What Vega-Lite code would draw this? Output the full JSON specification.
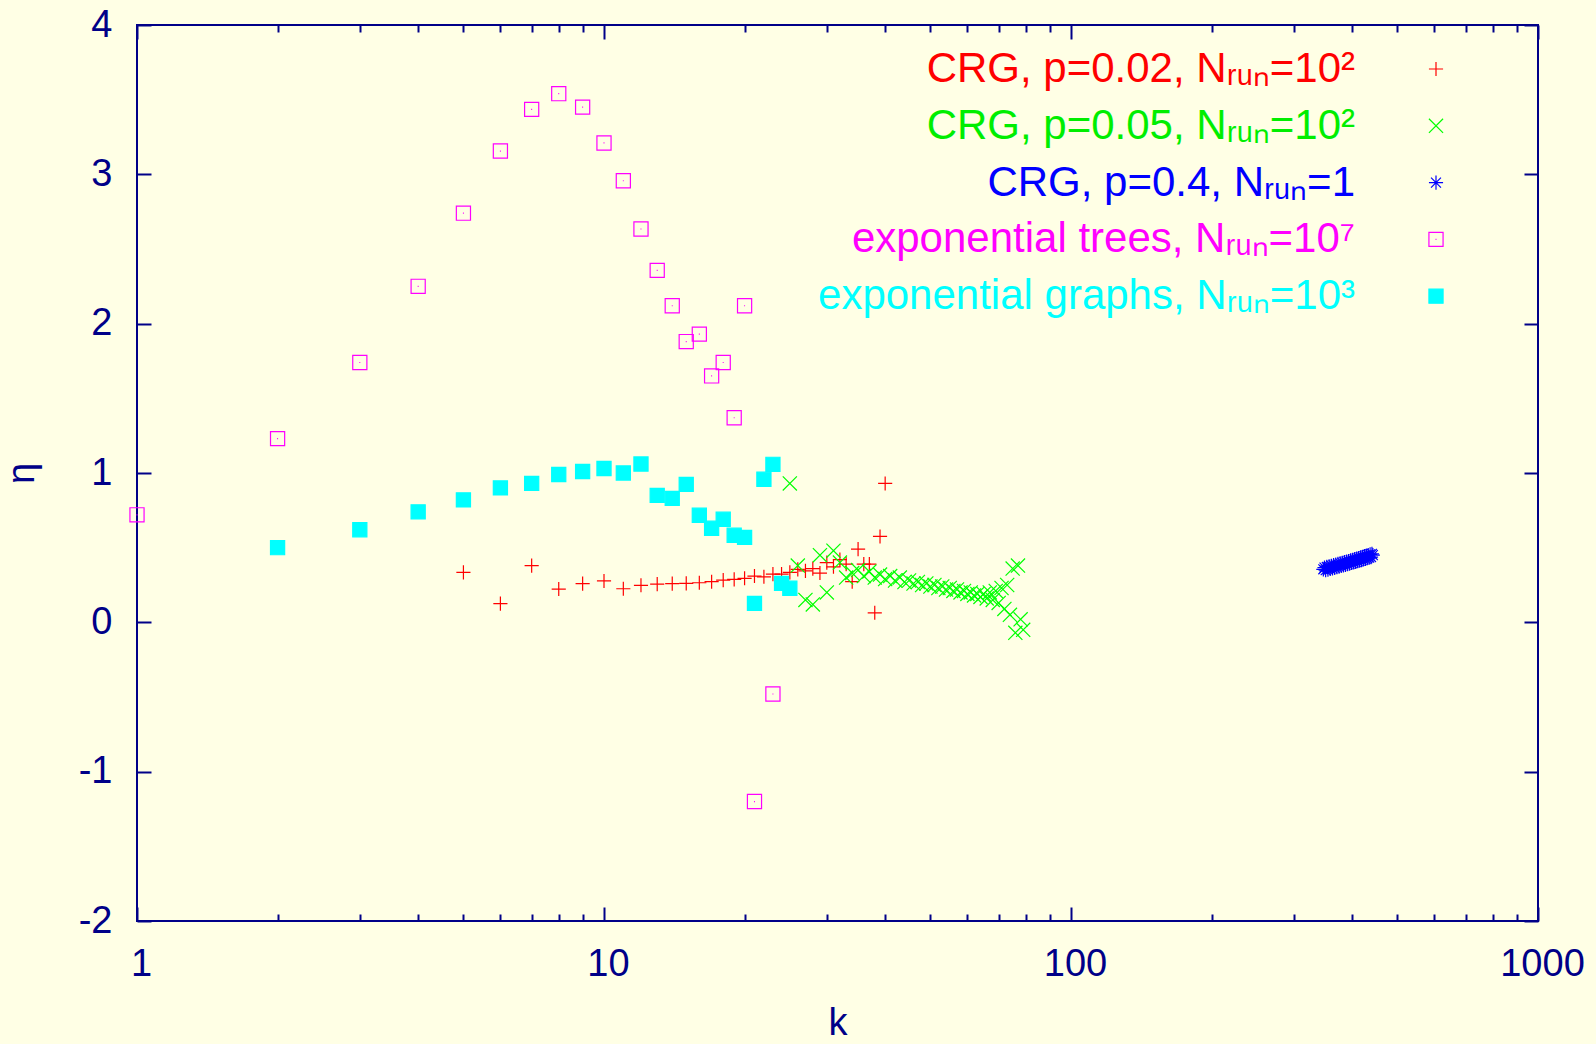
{
  "$schema": "https://vega.github.io/schema/vega-lite/v6.json",
  "width": 1401,
  "height": 896,
  "autosize": {"type": "none"},
  "padding": {"left": 137, "top": 25, "right": 58, "bottom": 123},
  "background": "#ffffe5",
  "config": {
    "view": {"stroke": "#000088", "strokeWidth": 2},
    "axis": {
      "domain": false, "grid": false, "labelFlush": false,
      "tickColor": "#000088", "tickWidth": 2,
      "labelFont": "Liberation Sans", "labelFontSize": 38, "labelColor": "#000088",
      "titleFont": "Liberation Sans", "titleFontSize": 38, "titleColor": "#000088", "titleFontWeight": "normal"
    },
    "legend": {
      "orient": "none", "legendX": 1278, "legendY": 23, "direction": "vertical",
      "labelAlign": "right", "labelOffset": -102, "labelFont": "Liberation Sans", "labelFontSize": 42,
      "labelLimit": 900, "rowPadding": 14.8, "symbolSize": 200, "symbolStrokeWidth": 1.2, "padding": 0
    }
  },
  "data": {"values": [
    {"k": 5, "eta": 0.335, "s": "CRG, p=0.02, Nᵣᵤₙ=10²"},
    {"k": 6, "eta": 0.125, "s": "CRG, p=0.02, Nᵣᵤₙ=10²"},
    {"k": 7, "eta": 0.38, "s": "CRG, p=0.02, Nᵣᵤₙ=10²"},
    {"k": 8, "eta": 0.223, "s": "CRG, p=0.02, Nᵣᵤₙ=10²"},
    {"k": 9, "eta": 0.259, "s": "CRG, p=0.02, Nᵣᵤₙ=10²"},
    {"k": 10, "eta": 0.277, "s": "CRG, p=0.02, Nᵣᵤₙ=10²"},
    {"k": 11, "eta": 0.225, "s": "CRG, p=0.02, Nᵣᵤₙ=10²"},
    {"k": 12, "eta": 0.248, "s": "CRG, p=0.02, Nᵣᵤₙ=10²"},
    {"k": 13, "eta": 0.256, "s": "CRG, p=0.02, Nᵣᵤₙ=10²"},
    {"k": 14, "eta": 0.259, "s": "CRG, p=0.02, Nᵣᵤₙ=10²"},
    {"k": 15, "eta": 0.261, "s": "CRG, p=0.02, Nᵣᵤₙ=10²"},
    {"k": 16, "eta": 0.265, "s": "CRG, p=0.02, Nᵣᵤₙ=10²"},
    {"k": 17, "eta": 0.272, "s": "CRG, p=0.02, Nᵣᵤₙ=10²"},
    {"k": 18, "eta": 0.283, "s": "CRG, p=0.02, Nᵣᵤₙ=10²"},
    {"k": 19, "eta": 0.288, "s": "CRG, p=0.02, Nᵣᵤₙ=10²"},
    {"k": 20, "eta": 0.295, "s": "CRG, p=0.02, Nᵣᵤₙ=10²"},
    {"k": 21, "eta": 0.31, "s": "CRG, p=0.02, Nᵣᵤₙ=10²"},
    {"k": 22, "eta": 0.305, "s": "CRG, p=0.02, Nᵣᵤₙ=10²"},
    {"k": 23, "eta": 0.323, "s": "CRG, p=0.02, Nᵣᵤₙ=10²"},
    {"k": 24, "eta": 0.323, "s": "CRG, p=0.02, Nᵣᵤₙ=10²"},
    {"k": 25, "eta": 0.335, "s": "CRG, p=0.02, Nᵣᵤₙ=10²"},
    {"k": 26, "eta": 0.355, "s": "CRG, p=0.02, Nᵣᵤₙ=10²"},
    {"k": 27, "eta": 0.345, "s": "CRG, p=0.02, Nᵣᵤₙ=10²"},
    {"k": 28, "eta": 0.36, "s": "CRG, p=0.02, Nᵣᵤₙ=10²"},
    {"k": 29, "eta": 0.33, "s": "CRG, p=0.02, Nᵣᵤₙ=10²"},
    {"k": 30, "eta": 0.40, "s": "CRG, p=0.02, Nᵣᵤₙ=10²"},
    {"k": 31, "eta": 0.372, "s": "CRG, p=0.02, Nᵣᵤₙ=10²"},
    {"k": 32, "eta": 0.42, "s": "CRG, p=0.02, Nᵣᵤₙ=10²"},
    {"k": 33, "eta": 0.39, "s": "CRG, p=0.02, Nᵣᵤₙ=10²"},
    {"k": 34, "eta": 0.272, "s": "CRG, p=0.02, Nᵣᵤₙ=10²"},
    {"k": 35, "eta": 0.49, "s": "CRG, p=0.02, Nᵣᵤₙ=10²"},
    {"k": 36, "eta": 0.39, "s": "CRG, p=0.02, Nᵣᵤₙ=10²"},
    {"k": 37, "eta": 0.39, "s": "CRG, p=0.02, Nᵣᵤₙ=10²"},
    {"k": 38, "eta": 0.064, "s": "CRG, p=0.02, Nᵣᵤₙ=10²"},
    {"k": 39, "eta": 0.575, "s": "CRG, p=0.02, Nᵣᵤₙ=10²"},
    {"k": 40, "eta": 0.93, "s": "CRG, p=0.02, Nᵣᵤₙ=10²"},
    {"k": 25, "eta": 0.93, "s": "CRG, p=0.05, Nᵣᵤₙ=10²"},
    {"k": 26, "eta": 0.38, "s": "CRG, p=0.05, Nᵣᵤₙ=10²"},
    {"k": 27, "eta": 0.15, "s": "CRG, p=0.05, Nᵣᵤₙ=10²"},
    {"k": 28, "eta": 0.12, "s": "CRG, p=0.05, Nᵣᵤₙ=10²"},
    {"k": 29, "eta": 0.45, "s": "CRG, p=0.05, Nᵣᵤₙ=10²"},
    {"k": 30, "eta": 0.20, "s": "CRG, p=0.05, Nᵣᵤₙ=10²"},
    {"k": 31, "eta": 0.48, "s": "CRG, p=0.05, Nᵣᵤₙ=10²"},
    {"k": 32, "eta": 0.40, "s": "CRG, p=0.05, Nᵣᵤₙ=10²"},
    {"k": 33, "eta": 0.30, "s": "CRG, p=0.05, Nᵣᵤₙ=10²"},
    {"k": 34, "eta": 0.33, "s": "CRG, p=0.05, Nᵣᵤₙ=10²"},
    {"k": 35, "eta": 0.35, "s": "CRG, p=0.05, Nᵣᵤₙ=10²"},
    {"k": 36, "eta": 0.31, "s": "CRG, p=0.05, Nᵣᵤₙ=10²"},
    {"k": 37, "eta": 0.34, "s": "CRG, p=0.05, Nᵣᵤₙ=10²"},
    {"k": 38, "eta": 0.30, "s": "CRG, p=0.05, Nᵣᵤₙ=10²"},
    {"k": 39, "eta": 0.32, "s": "CRG, p=0.05, Nᵣᵤₙ=10²"},
    {"k": 40, "eta": 0.29, "s": "CRG, p=0.05, Nᵣᵤₙ=10²"},
    {"k": 41, "eta": 0.31, "s": "CRG, p=0.05, Nᵣᵤₙ=10²"},
    {"k": 42, "eta": 0.28, "s": "CRG, p=0.05, Nᵣᵤₙ=10²"},
    {"k": 43, "eta": 0.30, "s": "CRG, p=0.05, Nᵣᵤₙ=10²"},
    {"k": 44, "eta": 0.27, "s": "CRG, p=0.05, Nᵣᵤₙ=10²"},
    {"k": 45, "eta": 0.28, "s": "CRG, p=0.05, Nᵣᵤₙ=10²"},
    {"k": 46, "eta": 0.26, "s": "CRG, p=0.05, Nᵣᵤₙ=10²"},
    {"k": 47, "eta": 0.27, "s": "CRG, p=0.05, Nᵣᵤₙ=10²"},
    {"k": 48, "eta": 0.25, "s": "CRG, p=0.05, Nᵣᵤₙ=10²"},
    {"k": 49, "eta": 0.26, "s": "CRG, p=0.05, Nᵣᵤₙ=10²"},
    {"k": 50, "eta": 0.24, "s": "CRG, p=0.05, Nᵣᵤₙ=10²"},
    {"k": 51, "eta": 0.25, "s": "CRG, p=0.05, Nᵣᵤₙ=10²"},
    {"k": 52, "eta": 0.23, "s": "CRG, p=0.05, Nᵣᵤₙ=10²"},
    {"k": 53, "eta": 0.24, "s": "CRG, p=0.05, Nᵣᵤₙ=10²"},
    {"k": 54, "eta": 0.22, "s": "CRG, p=0.05, Nᵣᵤₙ=10²"},
    {"k": 55, "eta": 0.23, "s": "CRG, p=0.05, Nᵣᵤₙ=10²"},
    {"k": 56, "eta": 0.21, "s": "CRG, p=0.05, Nᵣᵤₙ=10²"},
    {"k": 57, "eta": 0.22, "s": "CRG, p=0.05, Nᵣᵤₙ=10²"},
    {"k": 58, "eta": 0.20, "s": "CRG, p=0.05, Nᵣᵤₙ=10²"},
    {"k": 59, "eta": 0.21, "s": "CRG, p=0.05, Nᵣᵤₙ=10²"},
    {"k": 60, "eta": 0.19, "s": "CRG, p=0.05, Nᵣᵤₙ=10²"},
    {"k": 61, "eta": 0.20, "s": "CRG, p=0.05, Nᵣᵤₙ=10²"},
    {"k": 62, "eta": 0.18, "s": "CRG, p=0.05, Nᵣᵤₙ=10²"},
    {"k": 63, "eta": 0.19, "s": "CRG, p=0.05, Nᵣᵤₙ=10²"},
    {"k": 64, "eta": 0.17, "s": "CRG, p=0.05, Nᵣᵤₙ=10²"},
    {"k": 65, "eta": 0.19, "s": "CRG, p=0.05, Nᵣᵤₙ=10²"},
    {"k": 66, "eta": 0.16, "s": "CRG, p=0.05, Nᵣᵤₙ=10²"},
    {"k": 67, "eta": 0.20, "s": "CRG, p=0.05, Nᵣᵤₙ=10²"},
    {"k": 68, "eta": 0.15, "s": "CRG, p=0.05, Nᵣᵤₙ=10²"},
    {"k": 69, "eta": 0.21, "s": "CRG, p=0.05, Nᵣᵤₙ=10²"},
    {"k": 70, "eta": 0.13, "s": "CRG, p=0.05, Nᵣᵤₙ=10²"},
    {"k": 71, "eta": 0.23, "s": "CRG, p=0.05, Nᵣᵤₙ=10²"},
    {"k": 72, "eta": 0.09, "s": "CRG, p=0.05, Nᵣᵤₙ=10²"},
    {"k": 73, "eta": 0.25, "s": "CRG, p=0.05, Nᵣᵤₙ=10²"},
    {"k": 74, "eta": 0.05, "s": "CRG, p=0.05, Nᵣᵤₙ=10²"},
    {"k": 75, "eta": 0.36, "s": "CRG, p=0.05, Nᵣᵤₙ=10²"},
    {"k": 76, "eta": -0.07, "s": "CRG, p=0.05, Nᵣᵤₙ=10²"},
    {"k": 77, "eta": 0.38, "s": "CRG, p=0.05, Nᵣᵤₙ=10²"},
    {"k": 78, "eta": 0.02, "s": "CRG, p=0.05, Nᵣᵤₙ=10²"},
    {"k": 79, "eta": -0.05, "s": "CRG, p=0.05, Nᵣᵤₙ=10²"},
    {"k": 347, "eta": 0.355, "s": "CRG, p=0.4, Nᵣᵤₙ=1"},
    {"k": 349, "eta": 0.367, "s": "CRG, p=0.4, Nᵣᵤₙ=1"},
    {"k": 351, "eta": 0.349, "s": "CRG, p=0.4, Nᵣᵤₙ=1"},
    {"k": 353, "eta": 0.371, "s": "CRG, p=0.4, Nᵣᵤₙ=1"},
    {"k": 355, "eta": 0.353, "s": "CRG, p=0.4, Nᵣᵤₙ=1"},
    {"k": 357, "eta": 0.375, "s": "CRG, p=0.4, Nᵣᵤₙ=1"},
    {"k": 359, "eta": 0.357, "s": "CRG, p=0.4, Nᵣᵤₙ=1"},
    {"k": 361, "eta": 0.379, "s": "CRG, p=0.4, Nᵣᵤₙ=1"},
    {"k": 363, "eta": 0.361, "s": "CRG, p=0.4, Nᵣᵤₙ=1"},
    {"k": 365, "eta": 0.383, "s": "CRG, p=0.4, Nᵣᵤₙ=1"},
    {"k": 367, "eta": 0.365, "s": "CRG, p=0.4, Nᵣᵤₙ=1"},
    {"k": 369, "eta": 0.387, "s": "CRG, p=0.4, Nᵣᵤₙ=1"},
    {"k": 371, "eta": 0.369, "s": "CRG, p=0.4, Nᵣᵤₙ=1"},
    {"k": 373, "eta": 0.391, "s": "CRG, p=0.4, Nᵣᵤₙ=1"},
    {"k": 375, "eta": 0.373, "s": "CRG, p=0.4, Nᵣᵤₙ=1"},
    {"k": 377, "eta": 0.395, "s": "CRG, p=0.4, Nᵣᵤₙ=1"},
    {"k": 379, "eta": 0.377, "s": "CRG, p=0.4, Nᵣᵤₙ=1"},
    {"k": 381, "eta": 0.399, "s": "CRG, p=0.4, Nᵣᵤₙ=1"},
    {"k": 383, "eta": 0.381, "s": "CRG, p=0.4, Nᵣᵤₙ=1"},
    {"k": 385, "eta": 0.403, "s": "CRG, p=0.4, Nᵣᵤₙ=1"},
    {"k": 387, "eta": 0.385, "s": "CRG, p=0.4, Nᵣᵤₙ=1"},
    {"k": 389, "eta": 0.407, "s": "CRG, p=0.4, Nᵣᵤₙ=1"},
    {"k": 391, "eta": 0.389, "s": "CRG, p=0.4, Nᵣᵤₙ=1"},
    {"k": 393, "eta": 0.411, "s": "CRG, p=0.4, Nᵣᵤₙ=1"},
    {"k": 395, "eta": 0.393, "s": "CRG, p=0.4, Nᵣᵤₙ=1"},
    {"k": 397, "eta": 0.415, "s": "CRG, p=0.4, Nᵣᵤₙ=1"},
    {"k": 399, "eta": 0.397, "s": "CRG, p=0.4, Nᵣᵤₙ=1"},
    {"k": 401, "eta": 0.419, "s": "CRG, p=0.4, Nᵣᵤₙ=1"},
    {"k": 403, "eta": 0.401, "s": "CRG, p=0.4, Nᵣᵤₙ=1"},
    {"k": 405, "eta": 0.423, "s": "CRG, p=0.4, Nᵣᵤₙ=1"},
    {"k": 407, "eta": 0.405, "s": "CRG, p=0.4, Nᵣᵤₙ=1"},
    {"k": 409, "eta": 0.427, "s": "CRG, p=0.4, Nᵣᵤₙ=1"},
    {"k": 411, "eta": 0.409, "s": "CRG, p=0.4, Nᵣᵤₙ=1"},
    {"k": 413, "eta": 0.431, "s": "CRG, p=0.4, Nᵣᵤₙ=1"},
    {"k": 415, "eta": 0.413, "s": "CRG, p=0.4, Nᵣᵤₙ=1"},
    {"k": 417, "eta": 0.435, "s": "CRG, p=0.4, Nᵣᵤₙ=1"},
    {"k": 419, "eta": 0.417, "s": "CRG, p=0.4, Nᵣᵤₙ=1"},
    {"k": 421, "eta": 0.439, "s": "CRG, p=0.4, Nᵣᵤₙ=1"},
    {"k": 423, "eta": 0.421, "s": "CRG, p=0.4, Nᵣᵤₙ=1"},
    {"k": 425, "eta": 0.443, "s": "CRG, p=0.4, Nᵣᵤₙ=1"},
    {"k": 427, "eta": 0.425, "s": "CRG, p=0.4, Nᵣᵤₙ=1"},
    {"k": 429, "eta": 0.447, "s": "CRG, p=0.4, Nᵣᵤₙ=1"},
    {"k": 431, "eta": 0.429, "s": "CRG, p=0.4, Nᵣᵤₙ=1"},
    {"k": 433, "eta": 0.451, "s": "CRG, p=0.4, Nᵣᵤₙ=1"},
    {"k": 435, "eta": 0.433, "s": "CRG, p=0.4, Nᵣᵤₙ=1"},
    {"k": 437, "eta": 0.455, "s": "CRG, p=0.4, Nᵣᵤₙ=1"},
    {"k": 439, "eta": 0.437, "s": "CRG, p=0.4, Nᵣᵤₙ=1"},
    {"k": 441, "eta": 0.459, "s": "CRG, p=0.4, Nᵣᵤₙ=1"},
    {"k": 443, "eta": 0.45, "s": "CRG, p=0.4, Nᵣᵤₙ=1"},
    {"k": 1, "eta": 0.72, "s": "exponential trees, Nᵣᵤₙ=10⁷"},
    {"k": 2, "eta": 1.23, "s": "exponential trees, Nᵣᵤₙ=10⁷"},
    {"k": 3, "eta": 1.74, "s": "exponential trees, Nᵣᵤₙ=10⁷"},
    {"k": 4, "eta": 2.25, "s": "exponential trees, Nᵣᵤₙ=10⁷"},
    {"k": 5, "eta": 2.74, "s": "exponential trees, Nᵣᵤₙ=10⁷"},
    {"k": 6, "eta": 3.156, "s": "exponential trees, Nᵣᵤₙ=10⁷"},
    {"k": 7, "eta": 3.435, "s": "exponential trees, Nᵣᵤₙ=10⁷"},
    {"k": 8, "eta": 3.54, "s": "exponential trees, Nᵣᵤₙ=10⁷"},
    {"k": 9, "eta": 3.45, "s": "exponential trees, Nᵣᵤₙ=10⁷"},
    {"k": 10, "eta": 3.21, "s": "exponential trees, Nᵣᵤₙ=10⁷"},
    {"k": 11, "eta": 2.957, "s": "exponential trees, Nᵣᵤₙ=10⁷"},
    {"k": 12, "eta": 2.634, "s": "exponential trees, Nᵣᵤₙ=10⁷"},
    {"k": 13, "eta": 2.357, "s": "exponential trees, Nᵣᵤₙ=10⁷"},
    {"k": 14, "eta": 2.12, "s": "exponential trees, Nᵣᵤₙ=10⁷"},
    {"k": 15, "eta": 1.88, "s": "exponential trees, Nᵣᵤₙ=10⁷"},
    {"k": 16, "eta": 1.93, "s": "exponential trees, Nᵣᵤₙ=10⁷"},
    {"k": 17, "eta": 1.65, "s": "exponential trees, Nᵣᵤₙ=10⁷"},
    {"k": 18, "eta": 1.74, "s": "exponential trees, Nᵣᵤₙ=10⁷"},
    {"k": 19, "eta": 1.37, "s": "exponential trees, Nᵣᵤₙ=10⁷"},
    {"k": 20, "eta": 2.12, "s": "exponential trees, Nᵣᵤₙ=10⁷"},
    {"k": 21, "eta": -1.2, "s": "exponential trees, Nᵣᵤₙ=10⁷"},
    {"k": 23, "eta": -0.48, "s": "exponential trees, Nᵣᵤₙ=10⁷"},
    {"k": 2, "eta": 0.50, "s": "exponential graphs, Nᵣᵤₙ=10³"},
    {"k": 3, "eta": 0.62, "s": "exponential graphs, Nᵣᵤₙ=10³"},
    {"k": 4, "eta": 0.74, "s": "exponential graphs, Nᵣᵤₙ=10³"},
    {"k": 5, "eta": 0.82, "s": "exponential graphs, Nᵣᵤₙ=10³"},
    {"k": 6, "eta": 0.90, "s": "exponential graphs, Nᵣᵤₙ=10³"},
    {"k": 7, "eta": 0.93, "s": "exponential graphs, Nᵣᵤₙ=10³"},
    {"k": 8, "eta": 0.99, "s": "exponential graphs, Nᵣᵤₙ=10³"},
    {"k": 9, "eta": 1.01, "s": "exponential graphs, Nᵣᵤₙ=10³"},
    {"k": 10, "eta": 1.03, "s": "exponential graphs, Nᵣᵤₙ=10³"},
    {"k": 11, "eta": 1.00, "s": "exponential graphs, Nᵣᵤₙ=10³"},
    {"k": 12, "eta": 1.06, "s": "exponential graphs, Nᵣᵤₙ=10³"},
    {"k": 13, "eta": 0.85, "s": "exponential graphs, Nᵣᵤₙ=10³"},
    {"k": 14, "eta": 0.83, "s": "exponential graphs, Nᵣᵤₙ=10³"},
    {"k": 15, "eta": 0.924, "s": "exponential graphs, Nᵣᵤₙ=10³"},
    {"k": 16, "eta": 0.717, "s": "exponential graphs, Nᵣᵤₙ=10³"},
    {"k": 17, "eta": 0.63, "s": "exponential graphs, Nᵣᵤₙ=10³"},
    {"k": 18, "eta": 0.69, "s": "exponential graphs, Nᵣᵤₙ=10³"},
    {"k": 19, "eta": 0.583, "s": "exponential graphs, Nᵣᵤₙ=10³"},
    {"k": 20, "eta": 0.569, "s": "exponential graphs, Nᵣᵤₙ=10³"},
    {"k": 21, "eta": 0.127, "s": "exponential graphs, Nᵣᵤₙ=10³"},
    {"k": 22, "eta": 0.958, "s": "exponential graphs, Nᵣᵤₙ=10³"},
    {"k": 23, "eta": 1.058, "s": "exponential graphs, Nᵣᵤₙ=10³"},
    {"k": 24, "eta": 0.261, "s": "exponential graphs, Nᵣᵤₙ=10³"},
    {"k": 25, "eta": 0.228, "s": "exponential graphs, Nᵣᵤₙ=10³"}
  ]},
  "resolve": {"axis": {"x": "independent", "y": "independent"}},
  "layer": [
    {
      "mark": {"type": "point", "strokeWidth": 1.2, "opacity": 1},
      "encoding": {
        "x": {"field": "k", "type": "quantitative",
              "scale": {"type": "log", "domain": [1, 1000], "nice": false},
              "axis": {"orient": "bottom", "values": [1, 10, 100, 1000], "labelExpr": "'' + datum.value", "tickSize": -14, "labelPadding": 38, "labelOffset": 4, "title": "k", "titlePadding": 21}},
        "y": {"field": "eta", "type": "quantitative",
              "scale": {"domain": [-2, 4], "nice": false, "zero": false},
              "axis": {"orient": "left", "values": [-2, -1, 0, 1, 2, 3, 4], "labelExpr": "'' + datum.value", "tickSize": -14, "labelPadding": 39, "title": "η", "titlePadding": 37}},
        "stroke": {"field": "s", "type": "nominal",
          "scale": {"domain": ["CRG, p=0.02, Nᵣᵤₙ=10²", "CRG, p=0.05, Nᵣᵤₙ=10²", "CRG, p=0.4, Nᵣᵤₙ=1", "exponential trees, Nᵣᵤₙ=10⁷", "exponential graphs, Nᵣᵤₙ=10³"],
                    "range": ["#ff0000", "#00ff00", "#0000ff", "#ff00ff", "#00ffff"]},
          "legend": {"title": null,
                     "labelColor": {"expr": "datum.index == 0 ? '#ff0000' : datum.index == 1 ? '#00ee00' : datum.index == 2 ? '#0000ff' : datum.index == 3 ? '#ff00ff' : '#00ffff'"},
                     "encode": {"labels": {"fill": {"value": {"expr": "datum.index == 0 ? '#ff0000' : datum.index == 1 ? '#00ee00' : datum.index == 2 ? '#0000ff' : datum.index == 3 ? '#ff00ff' : '#00ffff'"}}}}}},
        "fill": {"field": "s", "type": "nominal",
          "scale": {"domain": ["CRG, p=0.02, Nᵣᵤₙ=10²", "CRG, p=0.05, Nᵣᵤₙ=10²", "CRG, p=0.4, Nᵣᵤₙ=1", "exponential trees, Nᵣᵤₙ=10⁷", "exponential graphs, Nᵣᵤₙ=10³"],
                    "range": ["transparent", "transparent", "transparent", "transparent", "#00ffff"]},
          "legend": {"title": null,
                     "labelColor": {"expr": "datum.index == 0 ? '#ff0000' : datum.index == 1 ? '#00ee00' : datum.index == 2 ? '#0000ff' : datum.index == 3 ? '#ff00ff' : '#00ffff'"},
                     "encode": {"labels": {"fill": {"value": {"expr": "datum.index == 0 ? '#ff0000' : datum.index == 1 ? '#00ee00' : datum.index == 2 ? '#0000ff' : datum.index == 3 ? '#ff00ff' : '#00ffff'"}}}}}},
        "shape": {"field": "s", "type": "nominal",
          "scale": {"domain": ["CRG, p=0.02, Nᵣᵤₙ=10²", "CRG, p=0.05, Nᵣᵤₙ=10²", "CRG, p=0.4, Nᵣᵤₙ=1", "exponential trees, Nᵣᵤₙ=10⁷", "exponential graphs, Nᵣᵤₙ=10³"],
                    "range": ["M-1,0H1M0,-1V1", "M-1,-1L1,1M-1,1L1,-1", "M-1,0H1M0,-1V1M-0.7,-0.7L0.7,0.7M-0.7,0.7L0.7,-0.7", "M-1,-1H1V1H-1ZM-0.07,0H0.07", "square"]},
          "legend": {"title": null,
                     "labelColor": {"expr": "datum.index == 0 ? '#ff0000' : datum.index == 1 ? '#00ee00' : datum.index == 2 ? '#0000ff' : datum.index == 3 ? '#ff00ff' : '#00ffff'"},
                     "encode": {"labels": {"fill": {"value": {"expr": "datum.index == 0 ? '#ff0000' : datum.index == 1 ? '#00ee00' : datum.index == 2 ? '#0000ff' : datum.index == 3 ? '#ff00ff' : '#00ffff'"}}}}}},
        "size": {"value": 200}
      }
    },
    {
      "mark": {"type": "point", "opacity": 0},
      "encoding": {
        "x": {"field": "k", "type": "quantitative", "axis": {"orient": "top", "values": [1, 10, 100, 1000], "tickSize": -14, "labels": false, "title": null}},
        "y": {"field": "eta", "type": "quantitative", "axis": {"orient": "right", "values": [-2, -1, 0, 1, 2, 3, 4], "tickSize": -14, "labels": false, "title": null}}
      }
    },
    {
      "mark": {"type": "point", "opacity": 0},
      "encoding": {
        "x": {"field": "k", "type": "quantitative", "axis": {"orient": "bottom", "values": [2, 3, 4, 5, 6, 7, 8, 9, 20, 30, 40, 50, 60, 70, 80, 90, 200, 300, 400, 500, 600, 700, 800, 900], "tickSize": -7, "labels": false, "title": null}},
        "y": {"field": "eta", "type": "quantitative", "axis": null}
      }
    },
    {
      "mark": {"type": "point", "opacity": 0},
      "encoding": {
        "x": {"field": "k", "type": "quantitative", "axis": {"orient": "top", "values": [2, 3, 4, 5, 6, 7, 8, 9, 20, 30, 40, 50, 60, 70, 80, 90, 200, 300, 400, 500, 600, 700, 800, 900], "tickSize": -7, "labels": false, "title": null}},
        "y": {"field": "eta", "type": "quantitative", "axis": null}
      }
    }
  ]
}
